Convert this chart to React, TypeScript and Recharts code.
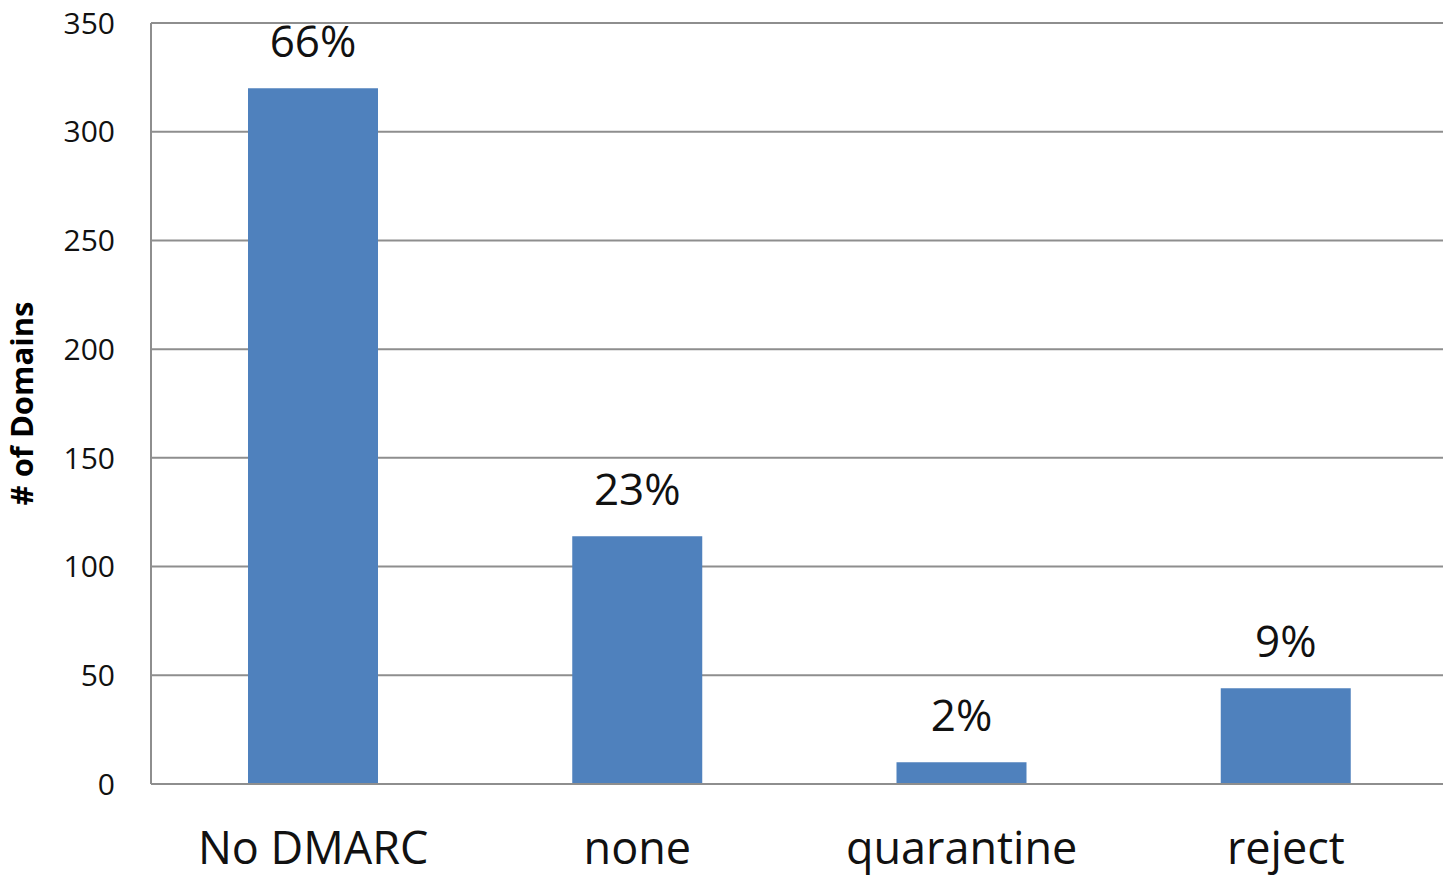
import React from 'react';
import { BarChart, Bar, XAxis, YAxis, CartesianGrid, LabelList } from 'recharts';

const categories = ['No DMARC', 'none', 'quarantine', 'reject'];
const domainCounts = [320, 114, 10, 44];
const shareLabels = ['66%', '23%', '2%', '9%'];
const yTicks = [0, 50, 100, 150, 200, 250, 300, 350];

const data = categories.map((name, i) => ({
    name,
    count: domainCounts[i],
    share: shareLabels[i]
}));

const FONT = '"Open Sans", sans-serif';
const GRID = '#8e8e8e';

export default function App() {
    return (
        <div style={{ position: 'absolute', left: 0, top: 0, width: 1443, height: 878, overflow: 'hidden', background: '#fff' }}>
            <BarChart
                width={1448}
                height={878}
                data={data}
                margin={{ top: 23, right: 0, left: 0, bottom: 0 }}
                barSize={130}
            >
                <CartesianGrid vertical={false} stroke={GRID} strokeWidth={2} />
                <XAxis
                    dataKey="name"
                    height={94}
                    axisLine={{ stroke: GRID, strokeWidth: 2 }}
                    tickLine={false}
                    tickSize={0}
                    tickMargin={48}
                    tick={{ fill: '#111', fontSize: 45, fontFamily: FONT }}
                    interval={0}
                />
                <YAxis
                    width={151}
                    domain={[0, 350]}
                    ticks={yTicks}
                    axisLine={{ stroke: GRID, strokeWidth: 2 }}
                    tickLine={false}
                    tickSize={0}
                    tickMargin={36}
                    tick={{ fill: '#111', fontSize: 30, fontFamily: FONT }}
                    label={{
                        value: '# of Domains',
                        angle: -90,
                        position: 'insideLeft',
                        offset: 22,
                        style: { textAnchor: 'middle', fill: '#000', fontSize: 31, fontWeight: 700, fontFamily: FONT }
                    }}
                />
                <Bar dataKey="count" fill="#4f81bd" isAnimationActive={false}>
                    <LabelList
                        dataKey="share"
                        position="top"
                        offset={31}
                        style={{ fill: '#111', fontSize: 44, fontFamily: FONT }}
                    />
                </Bar>
            </BarChart>
        </div>
    );
}
